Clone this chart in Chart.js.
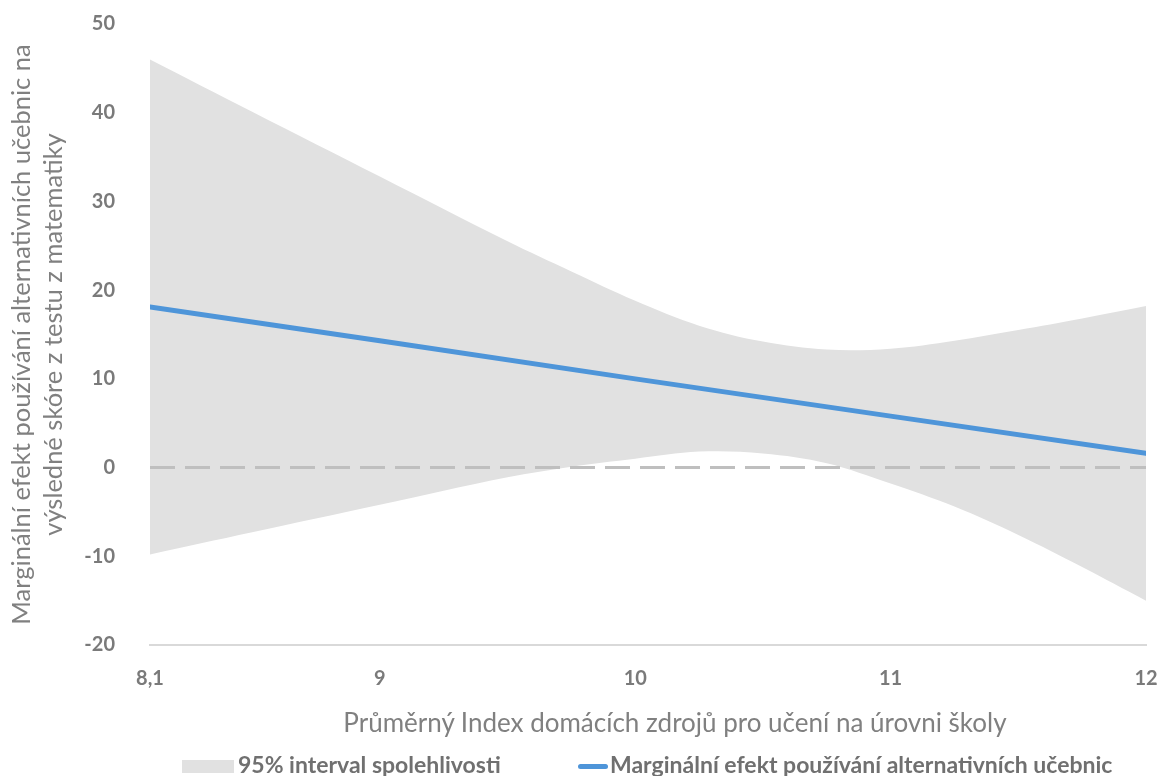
<!DOCTYPE html>
<html>
<head>
<meta charset="utf-8">
<script src="https://cdn.jsdelivr.net/npm/chart.js@4.4.1/dist/chart.umd.min.js"></script>
<style>
  body { margin: 0; background: #fff; }
  #wrap { position: relative; width: 1159px; height: 776px; }
  .leg { position: absolute; font-family: Lato, sans-serif; font-weight: bold; font-size: 23px; line-height: 23px; color: #707070; white-space: nowrap; }
  #xTitulek { position: absolute; left: 275px; width: 800px; top: 707px; text-align: center; font-family: Lato, sans-serif; font-size: 26px; line-height: 30px; color: #808080; white-space: nowrap; }
</style>
</head>
<body>
<div id="wrap">
  <canvas id="graf" width="1159" height="776"></canvas>
  <div id="xTitulek">Průměrný Index domácích zdrojů pro učení na úrovni školy</div>
  <!-- legenda v HTML -->
  <div style="position:absolute;left:182px;top:760px;width:52px;height:13px;background:#E1E1E1"></div>
  <div class="leg" style="left:238px;top:753px">95% interval spolehlivosti</div>
  <div style="position:absolute;left:578px;top:764px;width:30px;height:5px;border-radius:3px;background:#4E95D9"></div>
  <div class="leg" style="left:610px;top:753px">Marginální efekt používání alternativních učebnic</div>
</div>
<script>
// Osa x - průměrný index domácích zdrojů
const indexZdroju = [8.1, 8.5, 9, 9.5, 9.75, 10, 10.25, 10.5, 10.75, 11, 11.25, 11.5, 11.75, 12];
// Horní a dolní mez 95% intervalu
const horniMez = [46.0, 40.1, 32.8, 25.5, 22.1, 18.8, 16.0, 14.2, 13.3, 13.4, 14.3, 15.5, 16.8, 18.2];
const dolniMez = [-9.8, -7.3, -4.2, -1.1, 0.1, 1.0, 1.8, 1.6, 0.5, -1.8, -4.4, -7.6, -11.2, -15.0];
// Marginální efekt (přímka)
const efektX = [8.1, 9, 10, 11, 12];
const efektY = [18.1, 14.3, 10.0, 5.8, 1.6];
// Popisky os
const xTicky = [8.1, 9, 10, 11, 12];
const yTicky = [-20, -10, 0, 10, 20, 30, 40, 50];

const body = (xs, ys) => xs.map((x, i) => ({ x: x, y: ys[i] }));

const sedaPisma = '#7a7a7a';

new Chart(document.getElementById('graf'), {
    type: 'line',
    data: {
        datasets: [
            {
                label: 'horní',
                data: body(indexZdroju, horniMez),
                borderWidth: 0,
                pointRadius: 0,
                backgroundColor: '#E1E1E1',
                fill: '+1',
                tension: 0.35,
                order: 3
            },
            {
                label: 'dolní',
                data: body(indexZdroju, dolniMez),
                borderWidth: 0,
                pointRadius: 0,
                fill: false,
                tension: 0.35,
                order: 3
            },
            {
                label: 'nula',
                data: body([8.1, 12], [0, 0]),
                borderColor: '#BFBFBF',
                borderWidth: 3,
                borderDash: [25, 10],
                pointRadius: 0,
                fill: false,
                order: 2
            },
            {
                label: 'Marginální efekt používání alternativních učebnic',
                data: body(efektX, efektY),
                borderColor: '#4E95D9',
                borderWidth: 5,
                borderCapStyle: 'round',
                pointRadius: 0,
                fill: false,
                order: 1
            }
        ]
    },
    options: {
        responsive: false,
        animation: false,
        layout: { padding: { top: 24, right: 13, bottom: 31, left: 0 } },
        plugins: {
            legend: { display: false },
            tooltip: { enabled: false }
        },
        scales: {
            x: {
                type: 'linear',
                min: 8.1,
                max: 12,
                afterBuildTicks: axis => { axis.ticks = xTicky.map(v => ({ value: v })); },
                afterFit: axis => {
                    axis.height = 100;
                    axis.paddingLeft = 0;
                    axis.paddingRight = 0;
                },
                grid: { display: false, drawTicks: false },
                border: { display: true, color: '#D9D9D9', width: 2 },
                ticks: {
                    padding: 22,
                    color: sedaPisma,
                    font: { family: 'Lato', size: 20, weight: 'bold' },
                    callback: v => String(v).replace('.', ',')
                }
            },
            y: {
                min: -20,
                max: 50,
                afterBuildTicks: axis => { axis.ticks = yTicky.map(v => ({ value: v })); },
                afterFit: axis => {
                    axis.width = 150;
                    axis.paddingTop = 0;
                    axis.paddingBottom = 0;
                },
                grid: { display: false, drawTicks: false },
                border: { display: false },
                ticks: {
                    padding: 35,
                    color: sedaPisma,
                    font: { family: 'Lato', size: 20, weight: 'bold' }
                },
                title: {
                    display: true,
                    text: ['Marginální efekt používání alternativních učebnic na', 'výsledné skóre z testu z matematiky'],
                    color: '#808080',
                    font: { family: 'Lato', size: 25.5, lineHeight: 1.26 },
                    padding: { top: 6, bottom: 0 }
                }
            }
        }
    }
});
</script>
</body>
</html>
